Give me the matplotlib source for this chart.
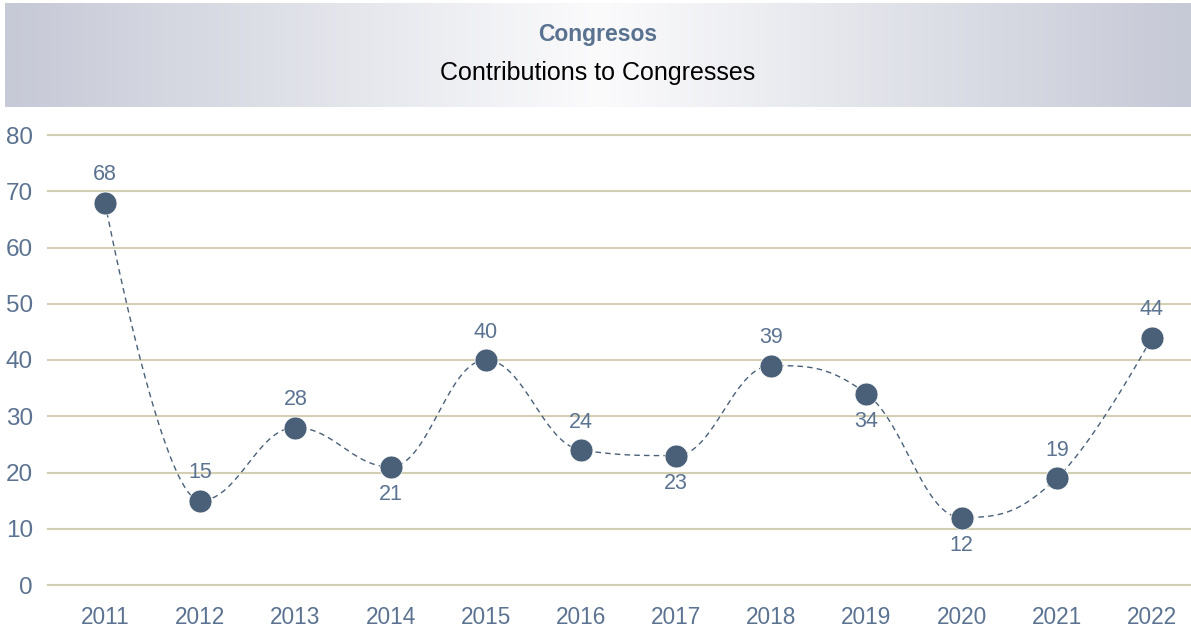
import matplotlib.pyplot as plt
import numpy as np

# Congress contributions per year
years = ['2011', '2012', '2013', '2014', '2015', '2016',
         '2017', '2018', '2019', '2020', '2021', '2022']
contributions = [68, 15, 28, 21, 40, 24, 23, 39, 34, 12, 19, 44]
label_below = [False, False, False, True, False, False,
               True, False, True, True, False, False]

plt.rcParams['font.family'] = ['Liberation Sans', 'DejaVu Sans']

slate = '#4a6078'
tick_col = '#5b7391'
grid_col = '#d3cfb2'


def spline_path(xs, ys, smoothing=1.5):
    # cubic bezier spline through the points (same construction as Highcharts)
    n = len(xs)
    denom = smoothing + 1
    lc = [(x, y) for x, y in zip(xs, ys)]
    rc = [(x, y) for x, y in zip(xs, ys)]
    for i in range(1, n - 1):
        x, y = xs[i], ys[i]
        lx, ly = xs[i - 1], ys[i - 1]
        nx, ny = xs[i + 1], ys[i + 1]
        lcx = (smoothing * x + lx) / denom
        lcy = (smoothing * y + ly) / denom
        rcx = (smoothing * x + nx) / denom
        rcy = (smoothing * y + ny) / denom
        corr = (rcy - lcy) * (rcx - x) / (rcx - lcx) + y - rcy
        lcy += corr
        rcy += corr
        if lcy > ly and lcy > y:
            lcy = max(ly, y)
            rcy = 2 * y - lcy
        elif lcy < ly and lcy < y:
            lcy = min(ly, y)
            rcy = 2 * y - lcy
        if rcy > ny and rcy > y:
            rcy = max(ny, y)
            lcy = 2 * y - rcy
        elif rcy < ny and rcy < y:
            rcy = min(ny, y)
            lcy = 2 * y - rcy
        lc[i] = (lcx, lcy)
        rc[i] = (rcx, rcy)
    px, py = [xs[0]], [ys[0]]
    t = np.linspace(0, 1, 40)[1:]
    for i in range(1, n):
        p0 = np.array([xs[i - 1], ys[i - 1]])
        p1 = np.array(rc[i - 1])
        p2 = np.array(lc[i])
        p3 = np.array([xs[i], ys[i]])
        seg = ((1 - t) ** 3)[:, None] * p0 + (3 * (1 - t) ** 2 * t)[:, None] * p1 \
            + (3 * (1 - t) * t ** 2)[:, None] * p2 + (t ** 3)[:, None] * p3
        px.extend(seg[:, 0])
        py.extend(seg[:, 1])
    return px, py


fig = plt.figure(figsize=(11.91, 6.3), dpi=100)

# header band with horizontal gradient
hdr = fig.add_axes([5 / 1191, (630 - 107) / 630, 1186 / 1191, 104 / 630])
u = np.linspace(-1, 1, 600)
w = np.abs(u)
edge = np.array([198, 201, 214]) / 255
mid = np.array([251, 251, 252]) / 255
grad = mid[None, :] * (1 - w[:, None]) + edge[None, :] * w[:, None]
hdr.imshow(grad[None, :, :], aspect='auto', extent=[0, 1, 0, 1])
hdr.set_xlim(0, 1)
hdr.set_ylim(0, 1)
hdr.axis('off')
hdr.text(0.5, (107 - 35) / 104, 'Congresos', ha='center', va='center',
         fontsize=16.5, fontweight='bold', color='#587290')
hdr.text(0.5, (107 - 73) / 104, 'Contributions to Congresses', ha='center',
         va='center', fontsize=18, color='#000000')

ax = fig.add_axes([48 / 1191, 45 / 630, 1143 / 1191, 450 / 630])
x = np.arange(len(years))

sx, sy = spline_path(list(x), contributions)
ax.plot(sx, sy, color=slate, lw=1.0, ls=(0, (4, 3)), zorder=3)
ax.plot(x, contributions, 'o', color=slate, markersize=16.5,
        markeredgecolor='white', markeredgewidth=0.5, zorder=4)

for xi, v, below in zip(x, contributions, label_below):
    off = -28 if below else 28
    ax.annotate(str(v), (xi, v), xytext=(0, off), textcoords='offset pixels',
                ha='center', va='center', fontsize=15.5, color=tick_col, zorder=5)

ax.set_xlim(-0.599, 11.41)
ax.set_ylim(0, 80)
ax.set_yticks(range(0, 81, 10))
ax.set_xticks(x)
ax.set_xticklabels(years)
ax.yaxis.grid(True, color=grid_col, lw=1.5)
for gl in ax.get_ygridlines():
    gl.set_clip_on(False)
ax.set_axisbelow(True)
for s in ax.spines.values():
    s.set_visible(False)
ax.tick_params(axis='both', length=0, colors=tick_col)
ax.tick_params(axis='y', pad=10.8, labelsize=17.5)
ax.tick_params(axis='x', pad=15, labelsize=16.3)

plt.savefig('out.png', dpi=100)
